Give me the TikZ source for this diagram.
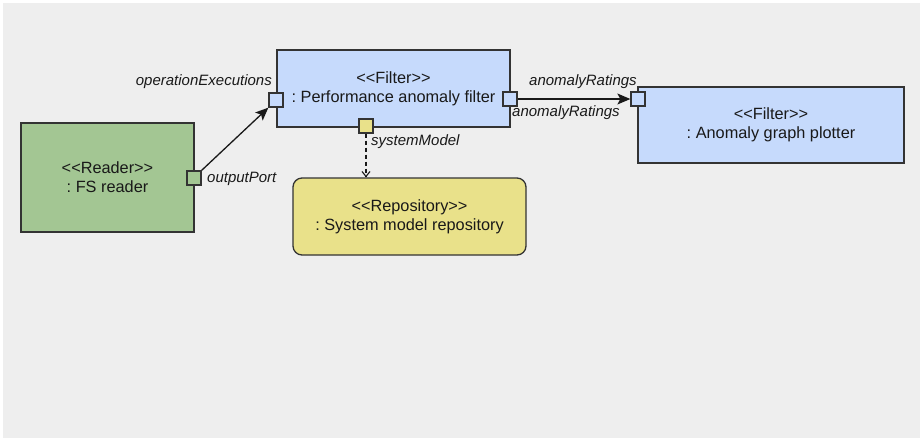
\documentclass[tikz,border=0pt]{standalone}
\usepackage{fontspec}
\setmainfont{Liberation Sans}
\usetikzlibrary{arrows.meta}
\definecolor{bggray}{HTML}{EEEEEE}
\definecolor{fblue}{HTML}{C6DAFC}
\definecolor{rgreen}{HTML}{A3C693}
\definecolor{ryellow}{HTML}{E9E18A}
\definecolor{edgec}{HTML}{333333}
\frenchspacing
\begin{document}
\begin{tikzpicture}[x=1pt,y=-1pt,
  comp/.style={draw=edgec,line width=1.3pt,anchor=center,align=center,inner sep=0pt,
    font=\fontsize{16.3}{19}\selectfont,text=black!90},
  port/.style={draw=edgec,line width=1.3pt,minimum width=14pt,minimum height=14pt,inner sep=0pt,anchor=center},
  lbl/.style={font=\fontsize{15}{18}\selectfont\itshape,inner sep=0pt,text=black!90},
  flow/.style={line width=1.3pt,draw=black!90,-{Stealth[length=13pt,width=11pt,inset=3pt]}},
  dep/.style={line width=1.1pt,draw=black!90,dash pattern=on 4pt off 3pt,-{Straight Barb[length=5pt,width=8pt]}}]
\useasboundingbox (0,0) rectangle (920,440);
\fill[bggray] (3,3) rectangle (920,438);
% components
\node[comp,fill=rgreen,minimum width=173pt,minimum height=109pt] (reader) at (107.5,177.5) {<{}<Reader>{}>\\: FS reader};
\node[comp,fill=fblue,minimum width=233pt,minimum height=77pt] (filter) at (393.5,88.5) {<{}<Filter>{}>\\: Performance anomaly filter};
\node[comp,fill=ryellow,rounded corners=9pt,minimum width=233pt,minimum height=77pt] (repo) at (409.5,216.5) {<{}<Repository>{}>\\: System model repository};
\node[comp,fill=fblue,minimum width=266pt,minimum height=76pt] (plotter) at (771,125) {<{}<Filter>{}>\\: Anomaly graph plotter};
% ports
\node[port,fill=rgreen] (outp) at (194,178) {};
\node[port,fill=fblue] (opin) at (276,100) {};
\node[port,fill=fblue] (aout) at (510,99) {};
\node[port,fill=ryellow] (sysm) at (366,126) {};
\node[port,fill=fblue] (ain) at (638,99) {};
% labels
\node[lbl,anchor=east] (l1) at (272,82) {operationExecutions};
\node[lbl,anchor=west] (l2) at (207,179) {outputPort};
\node[lbl,anchor=west] (l3) at (529,82) {anomalyRatings};
\node[lbl,anchor=west] (l4) at (512,113) {anomalyRatings};
\node[lbl,anchor=west] (l5) at (371,142) {systemModel};
% connectors
\draw[flow] (outp.north east) -- (opin.south west);
\draw[flow] (aout.east) -- (ain.west);
\draw[dep] (sysm.south) -- (sysm.south |- repo.north);
\end{tikzpicture}
\end{document}
